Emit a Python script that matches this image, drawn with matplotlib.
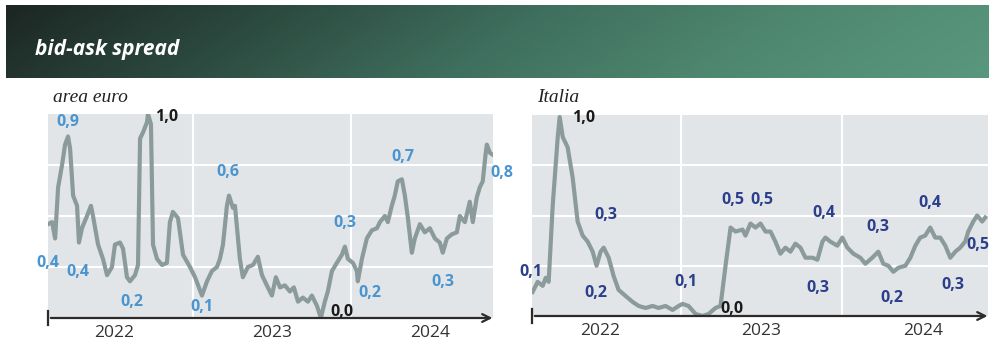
import numpy as np
import matplotlib
matplotlib.use('Agg')
import matplotlib.pyplot as plt
from matplotlib.colors import LinearSegmentedColormap

# data, x in decimal years, y = normalised bid-ask spread
euro_t = [2022.082, 2022.108, 2022.127, 2022.146, 2022.171, 2022.190, 2022.209, 2022.222, 2022.241, 2022.266,
          2022.278, 2022.297, 2022.329, 2022.354, 2022.367, 2022.399, 2022.430, 2022.456, 2022.487, 2022.506,
          2022.538, 2022.557, 2022.582, 2022.601, 2022.633, 2022.652, 2022.665, 2022.684, 2022.709, 2022.715,
          2022.734, 2022.747, 2022.772, 2022.804, 2022.835, 2022.854, 2022.873, 2022.905, 2022.937, 2022.981,
          2023.013, 2023.057, 2023.089, 2023.120, 2023.152, 2023.171, 2023.190, 2023.215, 2023.228, 2023.253,
          2023.266, 2023.297, 2023.316, 2023.348, 2023.380, 2023.411, 2023.437, 2023.468, 2023.500, 2023.525,
          2023.551, 2023.582, 2023.614, 2023.639, 2023.665, 2023.696, 2023.728, 2023.753, 2023.785, 2023.810,
          2023.835, 2023.854, 2023.880, 2023.911, 2023.943, 2023.962, 2023.981, 2024.013, 2024.038, 2024.044,
          2024.070, 2024.101, 2024.133, 2024.165, 2024.184, 2024.215, 2024.234, 2024.259, 2024.278, 2024.297,
          2024.323, 2024.342, 2024.361, 2024.386, 2024.405, 2024.437, 2024.468, 2024.500, 2024.532, 2024.563,
          2024.582, 2024.608, 2024.639, 2024.671, 2024.690, 2024.722, 2024.753, 2024.772, 2024.797, 2024.816,
          2024.835, 2024.854, 2024.861, 2024.880, 2024.899]
euro_v = [0.46, 0.47, 0.39, 0.64, 0.75, 0.85, 0.89, 0.83, 0.60, 0.55,
          0.37, 0.44, 0.50, 0.55, 0.50, 0.36, 0.29, 0.21, 0.25, 0.36,
          0.37, 0.34, 0.20, 0.18, 0.21, 0.26, 0.88, 0.91, 0.96, 1.00,
          0.95, 0.36, 0.29, 0.26, 0.27, 0.47, 0.52, 0.49, 0.31, 0.25,
          0.20, 0.11, 0.18, 0.23, 0.25, 0.29, 0.36, 0.55, 0.60, 0.54,
          0.55, 0.29, 0.20, 0.25, 0.26, 0.30, 0.21, 0.16, 0.11, 0.20,
          0.15, 0.16, 0.13, 0.15, 0.08, 0.10, 0.08, 0.11, 0.06, 0.00,
          0.08, 0.13, 0.23, 0.27, 0.31, 0.35, 0.29, 0.27, 0.23, 0.18,
          0.29, 0.39, 0.43, 0.44, 0.47, 0.50, 0.47, 0.55, 0.60, 0.67,
          0.68, 0.60, 0.49, 0.32, 0.39, 0.46, 0.42, 0.44, 0.39, 0.37,
          0.32, 0.39, 0.41, 0.42, 0.50, 0.47, 0.57, 0.47, 0.59, 0.64,
          0.67, 0.81, 0.85, 0.81, 0.80]

ita_t = [2022.086, 2022.117, 2022.148, 2022.167, 2022.185, 2022.210, 2022.241, 2022.253, 2022.272, 2022.302,
         2022.333, 2022.364, 2022.395, 2022.426, 2022.457, 2022.481, 2022.506, 2022.525, 2022.556, 2022.586,
         2022.617, 2022.660, 2022.704, 2022.741, 2022.784, 2022.827, 2022.864, 2022.907, 2022.951, 2022.988,
         2023.012, 2023.049, 2023.093, 2023.136, 2023.173, 2023.216, 2023.247, 2023.278, 2023.309, 2023.340,
         2023.383, 2023.401, 2023.432, 2023.463, 2023.494, 2023.525, 2023.556, 2023.586, 2023.617, 2023.648,
         2023.679, 2023.710, 2023.741, 2023.772, 2023.815, 2023.846, 2023.877, 2023.895, 2023.926, 2023.969,
         2024.000, 2024.031, 2024.068, 2024.111, 2024.142, 2024.185, 2024.222, 2024.253, 2024.284, 2024.315,
         2024.346, 2024.389, 2024.420, 2024.451, 2024.481, 2024.512, 2024.543, 2024.574, 2024.605, 2024.636,
         2024.667, 2024.698, 2024.728, 2024.759, 2024.778, 2024.809, 2024.833, 2024.864, 2024.883]
ita_v = [0.12, 0.17, 0.15, 0.19, 0.17, 0.55, 0.89, 0.99, 0.89, 0.84,
         0.69, 0.47, 0.40, 0.37, 0.32, 0.25, 0.32, 0.34, 0.29, 0.20,
         0.13, 0.10, 0.07, 0.05, 0.04, 0.05, 0.04, 0.05, 0.03, 0.05,
         0.06, 0.05, 0.01, 0.00, 0.01, 0.04, 0.05, 0.25, 0.44, 0.42,
         0.43, 0.40, 0.46, 0.44, 0.46, 0.42, 0.42, 0.37, 0.31, 0.34,
         0.32, 0.36, 0.34, 0.29, 0.29, 0.28, 0.37, 0.39, 0.37, 0.35,
         0.39, 0.34, 0.31, 0.29, 0.26, 0.29, 0.32, 0.26, 0.25, 0.22,
         0.24, 0.25, 0.29, 0.35, 0.39, 0.40, 0.44, 0.39, 0.39, 0.35,
         0.29, 0.32, 0.34, 0.37, 0.42, 0.47, 0.50, 0.47, 0.49]

# annotations: text, x, y
euro_lab = ["0,4", "0,9", "0,4", "1,0", "0,6", "0,2", "0,1", "0,3", "0,0", "0,2", "0,7", "0,3", "0,8"]
euro_lab_x = [2022.082, 2022.209, 2022.272, 2022.835, 2023.222, 2022.614, 2023.057, 2023.962, 2023.943,
              2024.120, 2024.329, 2024.582, 2024.956]
euro_lab_y = [0.27, 0.96, 0.225, 0.985, 0.716, 0.078, 0.054, 0.466, 0.03, 0.123, 0.789, 0.176, 0.711]
ita_lab = ["0,1", "1,0", "0,3", "0,2", "0,1", "0,0", "0,5", "0,5", "0,4", "0,3", "0,3", "0,2", "0,4", "0,3", "0,5"]
ita_lab_x = [2022.074, 2022.401, 2022.537, 2022.475, 2023.031, 2023.315, 2023.321, 2023.500, 2023.883,
             2023.846, 2024.222, 2024.309, 2024.543, 2024.685, 2024.840]
ita_lab_y = [0.219, 0.985, 0.502, 0.114, 0.169, 0.035, 0.577, 0.577, 0.512, 0.139, 0.443, 0.09, 0.562,
             0.154, 0.353]

years = ["2022", "2023", "2024"]
year_pos = [2022.5, 2023.5, 2024.5]
year_lines = [2023, 2024]

W, H = 989, 345
fig = plt.figure(figsize=(W / 100, H / 100), dpi=100)
fig.patch.set_facecolor('white')

# header banner
bax = fig.add_axes([6 / W, 1 - 78 / H, (W - 6) / W, 73 / H])
cmap = LinearSegmentedColormap.from_list('ban', ['#1c2622', '#2c4a3f', '#3f6f5e', '#4f8870', '#5a977f'])
gx = np.linspace(0, 1, 400)
gy = np.linspace(0, 1, 60)
grad = gx[None, :] * 0.9 + 0.1 * gy[:, None]
bax.imshow(grad, cmap=cmap, aspect='auto', extent=[0, 1, 0, 1], vmin=0, vmax=1)
bax.set_axis_off()
fig.text(35 / W, 1 - 49 / H, "bid-ask spread", color='white', fontsize=15, style='italic',
         fontweight='bold', family='Open Sans', va='center', ha='left')

LINE = '#8b9b9b'
BG = '#e2e5e7'


def panel(rect, t, v, labs, lx, ly, lcol, title):
    l, r, top, bot = rect
    ax = fig.add_axes([l / W, 1 - bot / H, (r - l) / W, (bot - top) / H])
    ax.set_facecolor(BG)
    ax.set_xlim(2022.082, 2024.90)
    ax.set_ylim(0, 1.0)
    for s in ax.spines.values():
        s.set_visible(False)
    ax.set_xticks([])
    ax.set_yticks([])
    for g in [0.25, 0.5, 0.75]:
        ax.axhline(g, color='white', lw=1.5, zorder=1)
    for g in year_lines:
        ax.axvline(g, color='white', lw=1.5, zorder=1)
    ax.plot(t, v, color=LINE, lw=3.0, zorder=3, solid_joinstyle='round')
    # x axis with arrow
    ax.annotate('', xy=(1.005, 0), xytext=(0, 0), xycoords='axes fraction',
                arrowprops=dict(arrowstyle='->', color='#2b2b2b', lw=1.6,
                                mutation_scale=14), annotation_clip=False, zorder=4)
    ax.plot([0, 0], [-0.035, 0.035], transform=ax.transAxes, color='#2b2b2b', lw=1.6,
            clip_on=False, zorder=4)
    for y, p in zip(years, year_pos):
        ax.text(p, -0.075, y, transform=ax.get_xaxis_transform(), ha='center', va='center',
                fontsize=12.5, color='#333333', family='Open Sans')
    for s, x, y in zip(labs, lx, ly):
        c = '#1a1a1a' if s in ("1,0", "0,0") else lcol
        ax.text(x, y, s, ha='center', va='center', fontsize=11.5, color=c, fontweight='bold',
                family='Open Sans', clip_on=False, zorder=5)
    ax.text(l / W + 5 / W, 1 - 97 / H, title, transform=fig.transFigure, ha='left', va='center',
            fontsize=14, style='italic', family='Liberation Serif', color='#222222')
    return ax


panel((48, 493, 114, 318), euro_t, euro_v, euro_lab, euro_lab_x, euro_lab_y, '#4a95d0', "area euro")
panel((532, 988, 115, 316), ita_t, ita_v, ita_lab, ita_lab_x, ita_lab_y, '#2c3f8c', "Italia")

fig.savefig('out.png', dpi=100)
